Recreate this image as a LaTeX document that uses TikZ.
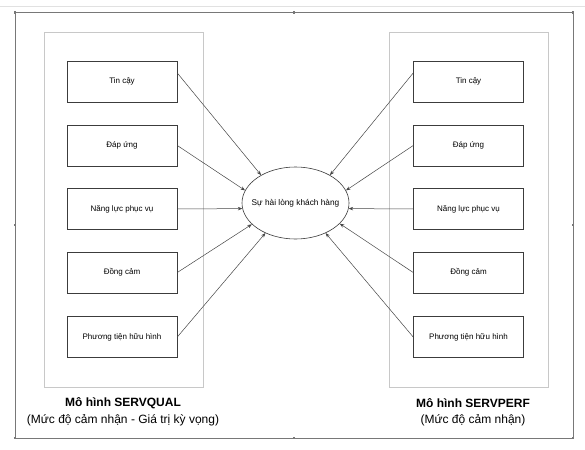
\documentclass[tikz,border=0pt]{standalone}
\usepackage{fontspec}
\setmainfont{Liberation Sans}
\usetikzlibrary{shapes.geometric,arrows.meta}
\definecolor{framegray}{RGB}{120,120,120}
\definecolor{groupgray}{RGB}{200,200,200}
\definecolor{boxline}{RGB}{60,60,60}
\definecolor{arrowgray}{RGB}{70,70,70}
\definecolor{topline}{RGB}{225,225,225}
\tikzset{
  factor/.style={draw=boxline, line width=0.6pt, minimum width=110pt, minimum height=41pt, inner sep=0pt, font=\fontsize{8}{9.5}\selectfont},
  groupbox/.style={draw=groupgray, line width=1pt},
  outerframe/.style={draw=framegray, line width=0.8pt},
  satnode/.style={draw=boxline, line width=0.6pt, ellipse, minimum width=107pt, minimum height=72pt, inner sep=0pt, font=\fontsize{8.3}{10}\selectfont},
  conn/.style={draw=arrowgray, line width=0.5pt, -{Stealth[length=4.5pt,width=3.5pt]}},
  titlebold/.style={font=\fontsize{12}{14}\selectfont\bfseries, inner sep=0pt},
  titlesub/.style={font=\fontsize{12}{14}\selectfont, inner sep=0pt},
  handle/.style={fill=framegray, inner sep=0pt, minimum size=2.5pt}
}
\begin{document}
\begin{tikzpicture}[x=1pt,y=-1pt]
\useasboundingbox (0,0) rectangle (585,449);
\fill[white] (0,0) rectangle (585,449);
% top faint line
\draw[topline, line width=0.8pt] (0,6) -- (585,6);
% outer frame
\draw[outerframe] (15,12.5) rectangle (573,438);
\foreach \p [count=\i] in {(15,12.5),(294,12.5),(573,12.5),(15,225),(573,225),(15,438),(294,438),(573,438)}
  \node[handle] (h\i) at \p {};
% group boxes
\draw[groupbox] (44,33) rectangle (203,387);
\draw[groupbox] (389,33) rectangle (548,387);
% central ellipse
\node[satnode] (sat) at (295.5,203) {\makebox[0pt]{Sự hài lòng khách hàng}};
% left factors
\node[factor] (l1) at (122,81.5) {Tin cậy};
\node[factor] (l2) at (122,145.5) {Đáp ứng};
\node[factor] (l3) at (122,209) {Năng lực phục vụ};
\node[factor] (l4) at (122,272.5) {Đồng cảm};
\node[factor] (l5) at (122,337) {Phương tiện hữu hình};
% right factors
\node[factor] (r1) at (468.5,81.5) {Tin cậy};
\node[factor] (r2) at (468.5,145.5) {Đáp ứng};
\node[factor] (r3) at (468.5,209) {Năng lực phục vụ};
\node[factor] (r4) at (468.5,272.5) {Đồng cảm};
\node[factor] (r5) at (468.5,337) {Phương tiện hữu hình};
% connectors
\draw[conn] ([yshift=8.5pt]l1.east) -- (sat.141);
\draw[conn] (l2.east) -- (sat.166);
\draw[conn] (l3.east) -- (sat.186);
\draw[conn] (l4.east) -- (sat.206);
\draw[conn] (l5.east) -- (sat.225);
\draw[conn] ([yshift=8.5pt]r1.west) -- (sat.39);
\draw[conn] (r2.west) -- (sat.14);
\draw[conn] (r3.west) -- (sat.354);
\draw[conn] (r4.west) -- (sat.335);
\draw[conn] (r5.west) -- (sat.315);
% titles
\node[titlebold] (tl1) at (123,403) {Mô hình SERVQUAL};
\node[titlesub] (tl2) at (123,420) {(Mức độ cảm nhận - Giá trị kỳ vọng)};
\node[titlebold] (tr1) at (473,403) {Mô hình SERVPERF};
\node[titlesub] (tr2) at (473,420) {(Mức độ cảm nhận)};
\end{tikzpicture}
\end{document}
